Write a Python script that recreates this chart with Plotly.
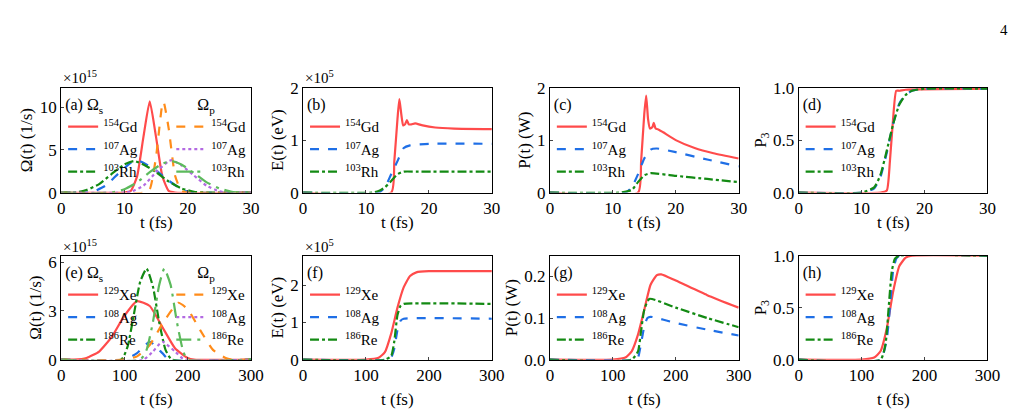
import plotly.graph_objects as go
from plotly.subplots import make_subplots

# ---- panel (a): Rabi frequencies, units of 1e15 1/s ----
ta_gd_s = [0, 10, 11, 12, 13, 14, 15, 16, 17, 18, 30]
a_gd_s = [0, 0, 0.2, 1.9, 6.5, 10.7, 6.5, 1.9, 0.2, 0, 0]
ta_gd_p = [0, 13, 14, 15, 16, 16.2, 17, 18, 19, 20, 30]
a_gd_p = [0, 0, 0.4, 4.2, 10.4, 10.6, 7.5, 2.0, 0.2, 0, 0]
ta_ag_s = [0, 4, 5, 7, 9, 11, 12, 13, 15, 17, 19, 20, 21, 30]
a_ag_s = [0, 0, 0.1, 0.8, 2.2, 3.5, 3.8, 3.5, 2.6, 1.4, 0.4, 0.1, 0, 0]
ta_ag_p = [0, 10, 11, 13, 15, 17, 17.5, 19, 21, 23, 25, 26, 30]
a_ag_p = [0, 0, 0.1, 0.8, 2.4, 3.7, 3.8, 3.2, 2.0, 0.8, 0.15, 0, 0]
ta_rh_s = [0, 2, 4, 6, 8, 10, 11.5, 13, 15, 17, 19, 21, 23, 30]
a_rh_s = [0, 0, 0.3, 1.0, 2.2, 3.3, 3.7, 3.3, 2.4, 1.3, 0.5, 0.1, 0, 0]
ta_rh_p = [0, 8, 10, 12, 14, 16, 17.5, 19, 21, 23, 25, 27, 29, 30]
a_rh_p = [0, 0, 0.4, 1.2, 2.4, 3.4, 3.7, 3.3, 2.3, 1.2, 0.5, 0.1, 0, 0]

# ---- panel (b): energy, units of 1e5 eV ----
tb_gd = [0, 14, 14.5, 15, 15.3, 15.6, 15.9, 16.2, 16.5, 16.8, 17.2, 17.8, 19, 21, 24, 30]
b_gd = [0, 0, 0.6, 1.4, 1.78, 1.5, 1.28, 1.3, 1.38, 1.3, 1.3, 1.32, 1.28, 1.24, 1.22, 1.21]
tb_ag = [0, 12, 13, 14, 15, 16, 17, 20, 30]
b_ag = [0, 0, 0.1, 0.35, 0.6, 0.85, 0.9, 0.93, 0.93]
tb_rh = [0, 11, 12, 13, 14, 15, 16, 18, 30]
b_rh = [0, 0, 0.03, 0.1, 0.22, 0.35, 0.4, 0.4, 0.4]

# ---- panel (c): power ----
tc_gd = [0, 14, 14.5, 15, 15.3, 15.6, 15.9, 16.3, 16.5, 16.8, 17.3, 18, 20, 23, 26, 30]
c_gd = [0, 0, 0.6, 1.5, 1.85, 1.4, 1.22, 1.25, 1.33, 1.22, 1.2, 1.15, 1.0, 0.85, 0.75, 0.65]
tc_ag = [0, 12, 13, 14, 15, 16, 17, 20, 25, 30]
c_ag = [0, 0, 0.1, 0.35, 0.65, 0.82, 0.84, 0.77, 0.63, 0.5]
tc_rh = [0, 11, 13, 14, 15, 16, 20, 25, 30]
c_rh = [0, 0, 0.05, 0.2, 0.33, 0.37, 0.32, 0.26, 0.2]

# ---- panel (d): population P3 ----
td_gd = [0, 13, 14, 14.5, 15, 15.5, 16, 17, 30]
d_gd = [0, 0, 0.02, 0.3, 0.7, 0.97, 0.97, 0.98, 0.99]
td_ag = [0, 10, 12, 13, 14, 15, 16, 17, 18, 20, 30]
d_ag = [0, 0, 0.04, 0.15, 0.38, 0.65, 0.85, 0.93, 0.97, 0.99, 0.99]
td_rh = [0, 10, 12, 13, 14, 15, 16, 17, 18, 20, 30]
d_rh = [0, 0, 0.05, 0.17, 0.4, 0.65, 0.84, 0.93, 0.97, 0.99, 0.99]

# ---- panel (e) ----
te_xe_s = [0, 20, 40, 60, 80, 100, 120, 140, 160, 180, 200, 210, 300]
e_xe_s = [0, 0, 0.1, 0.5, 1.4, 2.7, 3.6, 3.3, 2.0, 0.7, 0.1, 0, 0]
te_xe_p = [0, 100, 120, 140, 160, 185, 200, 220, 240, 260, 270, 300]
e_xe_p = [0, 0, 0.2, 0.9, 2.2, 3.5, 3.1, 1.8, 0.6, 0.1, 0, 0]
te_ag_s = [0, 100, 120, 140, 160, 170, 300]
e_ag_s = [0, 0, 0.4, 1.1, 0.4, 0, 0]
te_ag_p = [0, 130, 145, 160, 180, 195, 300]
e_ag_p = [0, 0, 0.5, 1.1, 0.5, 0, 0]
te_re_s = [0, 95, 105, 115, 125, 135, 145, 155, 165, 175, 300]
e_re_s = [0, 0, 0.8, 2.8, 4.8, 5.6, 4.5, 2.3, 0.6, 0, 0]
te_re_p = [0, 125, 135, 145, 155, 163, 173, 183, 193, 200, 300]
e_re_p = [0, 0, 0.6, 2.3, 4.6, 5.6, 4.6, 2.3, 0.5, 0, 0]

# ---- panel (f) ----
tf_xe = [0, 100, 120, 130, 140, 150, 160, 170, 180, 200, 300]
f_xe = [0, 0, 0.05, 0.2, 0.7, 1.4, 1.95, 2.25, 2.35, 2.38, 2.38]
tf_ag = [0, 135, 140, 145, 150, 155, 160, 300]
f_ag = [0, 0, 0.05, 0.3, 0.8, 1.05, 1.1, 1.1]
tf_re = [0, 130, 140, 145, 150, 155, 160, 300]
f_re = [0, 0, 0.1, 0.5, 1.2, 1.45, 1.5, 1.5]

# ---- panel (g) ----
tg_xe = [0, 100, 120, 130, 140, 150, 160, 170, 177, 200, 250, 300]
g_xe = [0, 0, 0.005, 0.02, 0.06, 0.12, 0.18, 0.203, 0.205, 0.19, 0.155, 0.125]
tg_ag = [0, 135, 140, 145, 150, 155, 160, 200, 250, 300]
g_ag = [0, 0, 0.005, 0.04, 0.08, 0.1, 0.103, 0.088, 0.072, 0.058]
tg_re = [0, 130, 140, 145, 150, 158, 200, 250, 300]
g_re = [0, 0, 0.02, 0.07, 0.12, 0.146, 0.125, 0.1, 0.078]

# ---- panel (h) ----
th_xe = [0, 100, 120, 130, 140, 150, 160, 170, 180, 300]
h_xe = [0, 0, 0.02, 0.08, 0.3, 0.65, 0.9, 0.98, 1.0, 1.0]
th_ag = [0, 130, 140, 145, 150, 155, 160, 300]
h_ag = [0, 0, 0.2, 0.5, 0.85, 0.97, 1.0, 1.0]
th_re = [0, 130, 138, 143, 148, 153, 160, 300]
h_re = [0, 0, 0.15, 0.5, 0.85, 0.97, 1.0, 1.0]

RED, BLUE, GREEN = "#ff4b4b", "#1f6fe6", "#138a13"
ORANGE, PURPLE, LGREEN = "#ff8c1a", "#b36ae2", "#5cba5c"
FONT = "Times New Roman, Liberation Serif, serif"

W, H = 1020, 417
xpx = [(50, 243), (296, 488), (547, 739), (800, 992)]
ypx = [(74, 184), (250, 359)]

fig = make_subplots(rows=2, cols=4)

leg_count = [0]
def new_legend(xp, yp, title):
    leg_count[0] += 1
    name = "legend" if leg_count[0] == 1 else "legend%d" % leg_count[0]
    fig.layout[name] = dict(x=xp / W, y=1 - yp / H, xanchor="left", yanchor="top",
                            bgcolor="rgba(0,0,0,0)", font=dict(family=FONT, size=15, color="black"),
                            title=dict(text=title, font=dict(family=FONT, size=16)),
                            itemwidth=30, tracegroupgap=0, traceorder="normal")
    return name

def add(r, c, t, y, label, color, dash, leg):
    fig.add_trace(go.Scatter(x=t, y=y, mode="lines", name=label, legend=leg,
                             line=dict(color=color, dash=dash, width=2.2, shape="spline", smoothing=0.5)),
                  row=r, col=c)

top_iso = ["<sup>154</sup>Gd", "<sup>107</sup>Ag", "<sup>103</sup>Rh"]
bot_iso = ["<sup>129</sup>Xe", "<sup>108</sup>Ag", "<sup>186</sup>Re"]
dashes = ["solid", "dash", "dashdot"]

# panel a
la = new_legend(52, 76, "(a) Ω<sub>s</sub>")
lap = new_legend(162, 76, "      Ω<sub>p</sub>")
for t, y, lab, col, d in zip([ta_gd_s, ta_ag_s, ta_rh_s], [a_gd_s, a_ag_s, a_rh_s], top_iso, [RED, BLUE, GREEN], dashes):
    add(1, 1, t, y, lab, col, d, la)
for t, y, lab, col, d in zip([ta_gd_p, ta_ag_p, ta_rh_p], [a_gd_p, a_ag_p, a_rh_p], top_iso, [ORANGE, PURPLE, LGREEN], ["dash", "dot", "longdashdot"]):
    add(1, 1, t, y, lab, col, d, lap)

top_sets = [("(b)", [(tb_gd, b_gd), (tb_ag, b_ag), (tb_rh, b_rh)]),
            ("(c)", [(tc_gd, c_gd), (tc_ag, c_ag), (tc_rh, c_rh)]),
            ("(d)", [(td_gd, d_gd), (td_ag, d_ag), (td_rh, d_rh)])]
for i, (tag, ser) in enumerate(top_sets):
    lg = new_legend(xpx[i + 1][0] + 2, 76, tag)
    for (t, y), lab, col, d in zip(ser, top_iso, [RED, BLUE, GREEN], dashes):
        add(1, i + 2, t, y, lab, col, d, lg)

# panel e
le = new_legend(52, 252, "(e) Ω<sub>s</sub>")
lep = new_legend(162, 252, "      Ω<sub>p</sub>")
for t, y, lab, col, d in zip([te_xe_s, te_ag_s, te_re_s], [e_xe_s, e_ag_s, e_re_s], bot_iso, [RED, BLUE, GREEN], dashes):
    add(2, 1, t, y, lab, col, d, le)
for t, y, lab, col, d in zip([te_xe_p, te_ag_p, te_re_p], [e_xe_p, e_ag_p, e_re_p], bot_iso, [ORANGE, PURPLE, LGREEN], ["dash", "dot", "longdashdot"]):
    add(2, 1, t, y, lab, col, d, lep)

bot_sets = [("(f)", [(tf_xe, f_xe), (tf_ag, f_ag), (tf_re, f_re)]),
            ("(g)", [(tg_xe, g_xe), (tg_ag, g_ag), (tg_re, g_re)]),
            ("(h)", [(th_xe, h_xe), (th_ag, h_ag), (th_re, h_re)])]
for i, (tag, ser) in enumerate(bot_sets):
    lg = new_legend(xpx[i + 1][0] + 2, 252, tag)
    for (t, y), lab, col, d in zip(ser, bot_iso, [RED, BLUE, GREEN], dashes):
        add(2, i + 2, t, y, lab, col, d, lg)

ylabels = ["Ω(t) (1/s)", "E(t) (eV)", "P(t) (W)", "P<sub>3</sub>"]
yranges = [[(0, 12.3), (0, 2), (0, 2), (0, 1)], [(0, 6.4), (0, 2.8), (0, 0.25), (0, 1)]]
ytickv = [[[0, 5, 10], [0, 1, 2], [0, 1, 2], [0, 0.5, 1]],
          [[0, 3, 6], [0, 1, 2], [0, 0.1, 0.2], [0, 0.5, 1]]]
ytickfmt = [[None, None, None, ".1f"], [None, None, ".1f", ".1f"]]
axfont = dict(family=FONT, size=17, color="black")
for r in range(2):
    for c in range(4):
        xr = (0, 30) if r == 0 else (0, 300)
        xt = [0, 10, 20, 30] if r == 0 else [0, 100, 200, 300]
        fig.update_xaxes(row=r + 1, col=c + 1, range=xr, tickvals=xt,
                         domain=[xpx[c][0] / W, xpx[c][1] / W],
                         showline=True, mirror=True, linecolor="black", linewidth=1,
                         ticks="inside", ticklen=3, showgrid=False, zeroline=False, tickfont=axfont)
        fig.update_yaxes(row=r + 1, col=c + 1, range=yranges[r][c], tickvals=ytickv[r][c],
                         tickformat=ytickfmt[r][c],
                         domain=[1 - ypx[r][1] / H, 1 - ypx[r][0] / H],
                         title=dict(text=ylabels[c], font=axfont, standoff=2),
                         showline=True, mirror=True, linecolor="black", linewidth=1,
                         ticks="inside", ticklen=3, showgrid=False, zeroline=False, tickfont=axfont)

def ann(xp, yp, text, size=15, anchor="left"):
    fig.add_annotation(x=xp / W, y=1 - yp / H, xref="paper", yref="paper", text=text,
                       showarrow=False, xanchor=anchor, yanchor="middle",
                       font=dict(family=FONT, size=size, color="black"))

# x axis titles
for c in range(4):
    mid = (xpx[c][0] + xpx[c][1]) / 2
    ann(mid, 215, "t (fs)", 17, "center")
    ann(mid, 401, "t (fs)", 17, "center")

ann(50, 63, "×10<sup>15</sup>")
ann(50, 240, "×10<sup>15</sup>")
ann(296, 63, "×10<sup>5</sup>")
ann(296, 240, "×10<sup>5</sup>")
ann(1003, 14, "4", 15)

fig.update_layout(width=W, height=H, margin=dict(l=0, r=0, t=0, b=0),
                  plot_bgcolor="white", paper_bgcolor="white",
                  font=dict(family=FONT, color="black"))
fig.write_html("out.html")
